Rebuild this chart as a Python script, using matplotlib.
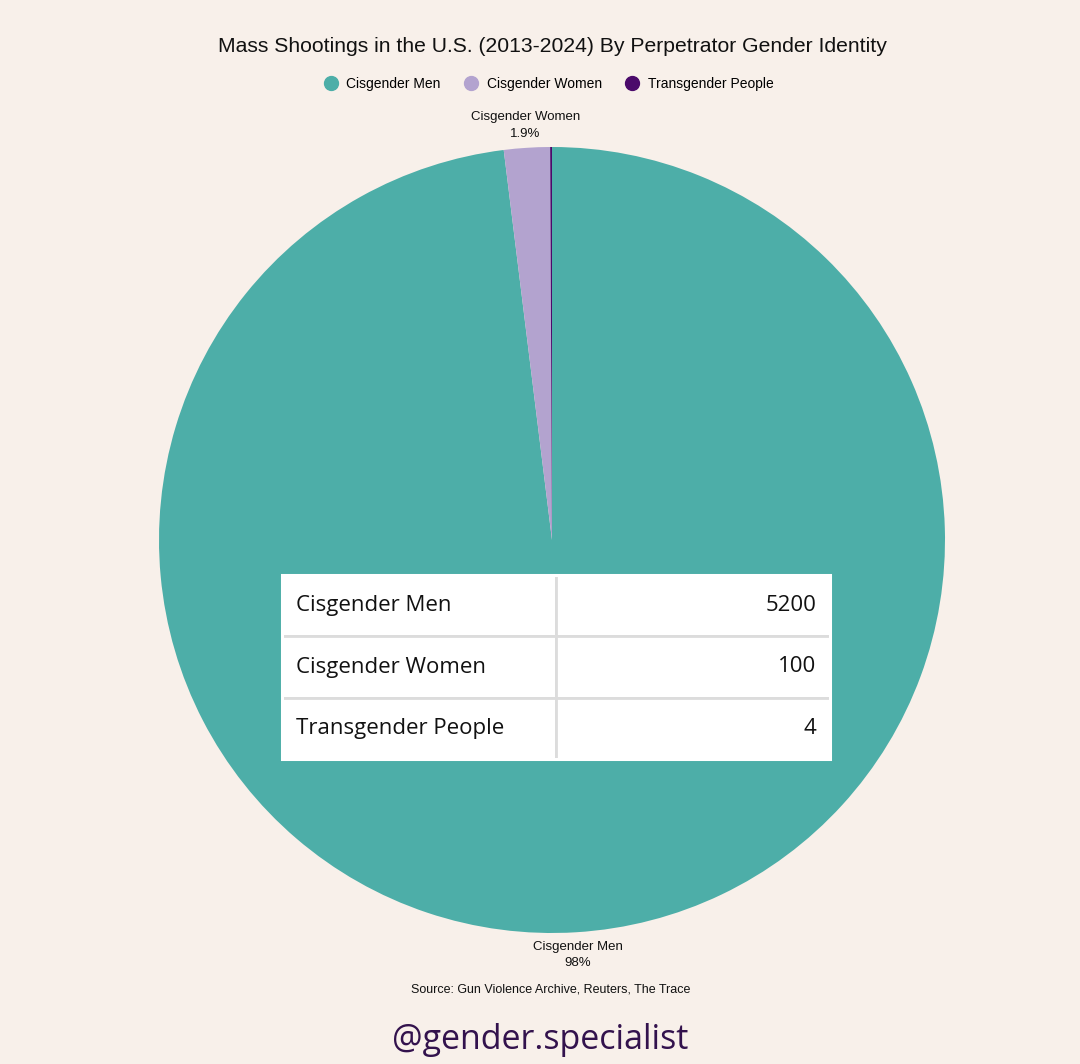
import numpy as np
import matplotlib
matplotlib.use("Agg")
import matplotlib.pyplot as plt
from matplotlib.lines import Line2D
from matplotlib.patches import Rectangle

categories = ["Cisgender Men", "Cisgender Women", "Transgender People"]
counts = [5200, 100, 4]
pct_labels = ["98%", "1.9%", None]
colors = ["#4daea8", "#b3a3cf", "#4b0a6b"]
title = "Mass Shootings in the U.S. (2013-2024) By Perpetrator Gender Identity"
source = "Source: Gun Violence Archive, Reuters, The Trace"
handle = "@gender.specialist"

bg = "#f8f0ea"
W, H = 1080, 1064
fig = plt.figure(figsize=(W / 100, H / 100), dpi=100, facecolor=bg)

cx, cy, r = 552, 540, 393
ax = fig.add_axes([(cx - r) / W, (H - cy - r) / H, 2 * r / W, 2 * r / H])
ax.set_facecolor("none")
wedges, _ = ax.pie(counts, colors=colors, startangle=90, counterclock=False,
                   radius=1.0, wedgeprops=dict(linewidth=0))
ax.set_xlim(-1, 1)
ax.set_ylim(-1, 1)
ax.set_aspect("equal")
ax.axis("off")

for w, name, pl in zip(wedges, categories, pct_labels):
    if pl is None:
        continue
    mid = np.deg2rad((w.theta1 + w.theta2) / 2)
    d = 1.058
    ax.text(d * np.cos(mid), d * np.sin(mid), f"{name}\n{pl}", ha="center", va="center",
            fontsize=9.5, family="Liberation Sans", color="#111111", linespacing=1.55)

# table
x0 = (282 - cx) / (2 * r) + 0.5
x1 = (830 - cx) / (2 * r) + 0.5
y1 = 0.5 - (575 - cy) / (2 * r)
y0 = 0.5 - (759 - cy) / (2 * r)
cell_text = [[c, str(v)] for c, v in zip(categories, counts)]
tbl = ax.table(cellText=cell_text, bbox=[x0, y0, x1 - x0, y1 - y0], cellLoc="left")
tbl.set_zorder(10)
tbl.auto_set_font_size(False)
for (i, j), cell in tbl.get_celld().items():
    cell.set_facecolor("white")
    cell.set_edgecolor("#dcdcdc")
    cell.set_linewidth(2)
    cell.PAD = 0.05
    t = cell.get_text()
    t.set_fontsize(16)
    t.set_family("Open Sans")
    t.set_color("#111111")
    if j == 1:
        t.set_ha("right")
        cell._loc = "right"
ax.add_patch(Rectangle((x0, y0), x1 - x0, y1 - y0, transform=ax.transAxes,
                       facecolor="none", edgecolor="white", linewidth=2.2, zorder=11))

fig.text(552 / W, 1 - 46 / H, title, ha="center", va="center", fontsize=15.2,
         family="Liberation Sans", color="#111111")

handles = [Line2D([], [], marker="o", linestyle="", markersize=10, markerfacecolor=c,
                  markeredgecolor=c) for c in colors]
fig.legend(handles, categories, loc="center", bbox_to_anchor=(548 / W, 1 - 84 / H), ncol=3,
           frameon=False, prop={"family": "Liberation Sans", "size": 10},
           handletextpad=0.5, columnspacing=1.6, handlelength=1.2)

fig.text(551 / W, 1 - 989 / H, source, ha="center", va="center", fontsize=9,
         family="Liberation Sans", color="#111111")
fig.text(540 / W, 1 - 1040 / H, handle, ha="center", va="center", fontsize=24.5,
         family="Open Sans", color="#33124d")

fig.savefig("out.png", dpi=100, facecolor=bg)
